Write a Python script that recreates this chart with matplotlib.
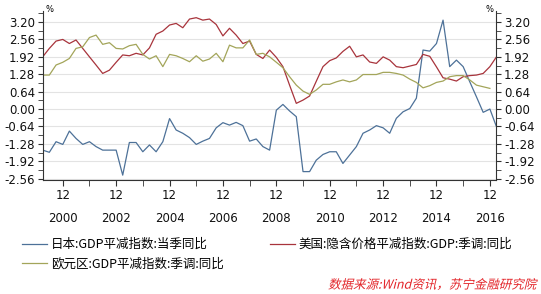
import numpy as np
import pandas as pd
import matplotlib
matplotlib.use("Agg")
import matplotlib.pyplot as plt
import matplotlib.dates as mdates
from matplotlib.ticker import MultipleLocator, FixedLocator
from matplotlib.textpath import TextPath
from matplotlib.patches import PathPatch
from matplotlib.font_manager import FontProperties
from matplotlib.transforms import Affine2D, IdentityTransform

# quarterly data, 2000Q1 .. 2017Q1
dates = pd.date_range("2000-03-31", periods=69, freq="QE")

japan = [
    -1.51, -1.59, -1.20, -1.30, -0.81, -1.08, -1.30, -1.20, -1.38, -1.51,
    -1.51, -1.51, -2.43, -1.23, -1.23, -1.57, -1.32, -1.57, -1.20, -0.35,
    -0.77, -0.89, -1.05, -1.30, -1.18, -1.08, -0.69, -0.50, -0.59, -0.49,
    -0.61, -1.18, -1.10, -1.38, -1.51, -0.04, 0.17, -0.07, -0.28, -2.30,
    -2.30, -1.88, -1.67, -1.57, -1.57, -2.00, -1.69, -1.38, -0.89, -0.77,
    -0.61, -0.69, -0.89, -0.34, -0.10, 0.02, 0.40, 2.17, 2.13, 2.41,
    3.27, 1.56, 1.80, 1.56, 1.00, 0.45, -0.12, 0.00, -0.65,
]
usa = [
    1.92, 2.23, 2.50, 2.56, 2.41, 2.54, 2.23, 1.92, 1.62, 1.31,
    1.43, 1.72, 1.99, 1.96, 2.05, 1.99, 2.25, 2.75, 2.87, 3.09,
    3.15, 2.99, 3.31, 3.36, 3.27, 3.31, 3.11, 2.69, 2.97, 2.72,
    2.41, 2.50, 2.01, 1.86, 2.17, 1.90, 1.56, 0.88, 0.21, 0.33,
    0.48, 1.02, 1.56, 1.78, 1.88, 2.12, 2.31, 1.92, 1.99, 1.73,
    1.68, 1.92, 1.80, 1.56, 1.52, 1.58, 1.64, 2.01, 1.94, 1.55,
    1.15, 1.10, 1.03, 1.19, 1.23, 1.25, 1.31, 1.56, 1.92,
]
euro = [
    1.25, 1.25, 1.62, 1.72, 1.86, 2.23, 2.29, 2.63, 2.72, 2.38,
    2.44, 2.23, 2.21, 2.33, 2.38, 2.01, 1.84, 1.96, 1.56, 2.01,
    1.96, 1.86, 1.74, 1.96, 1.76, 1.84, 2.05, 1.74, 2.35, 2.25,
    2.25, 2.54, 2.01, 2.05, 1.92, 1.72, 1.52, 1.19, 0.88, 0.66,
    0.54, 0.70, 0.91, 0.91, 1.00, 1.07, 1.00, 1.07, 1.27, 1.27,
    1.27, 1.35, 1.35, 1.31, 1.25, 1.10, 0.98, 0.78, 0.86, 0.98,
    1.03, 1.19, 1.23, 1.23, 1.07, 0.88, 0.82, 0.76,
]

labels = ["日本:GDP平减指数:当季同比", "美国:隐含价格平减指数:GDP:季调:同比", "欧元区:GDP平减指数:季调:同比"]
colors = ["#4d7198", "#a8343c", "#a3a55a"]
yticks = [-2.56, -1.92, -1.28, -0.64, 0.00, 0.64, 1.28, 1.92, 2.56, 3.20]
label_years = [2000, 2002, 2004, 2006, 2008, 2010, 2012, 2014, 2016]
all_years = list(range(2000, 2017))
source = "数据来源:Wind资讯，苏宁金融研究院"

plt.rcParams["font.family"] = ["DejaVu Sans"]
plt.rcParams["axes.unicode_minus"] = False
cjk = ["Noto Sans CJK SC", "DejaVu Sans"]

fig = plt.figure(figsize=(5.41, 2.94), dpi=100)
ax = fig.add_axes([0.0789, 0.3867, 0.8388, 0.5772])

l1, = ax.plot(dates, japan, color=colors[0], lw=0.9)
l2, = ax.plot(dates, usa, color=colors[1], lw=0.9)
l3, = ax.plot(dates[:len(euro)], euro, color=colors[2], lw=0.9)

ax.set_ylim(-2.62, 3.62)
ax.set_xlim(dates[0], dates[-1])
ax.yaxis.set_major_locator(FixedLocator(yticks))
ax.yaxis.set_minor_locator(MultipleLocator(0.32))
ax.set_yticklabels([f"{v:.2f}" for v in yticks])
ax.grid(axis="y", which="major", color="#e3e3e3", lw=0.8)
ax.set_axisbelow(True)

ax.xaxis.set_major_locator(FixedLocator([mdates.date2num(pd.Timestamp(f"{y}-12-31")) for y in label_years]))
ax.xaxis.set_minor_locator(FixedLocator([mdates.date2num(pd.Timestamp(f"{y}-12-31")) for y in all_years if y not in label_years]))
ax.set_xticklabels([f"12\n{y}" for y in label_years])
for t in ax.get_xticklabels():
    t.set_linespacing(2.0)

ax.tick_params(axis="both", which="both", direction="out", color="#333333", labelsize=8.5, labelcolor="#111111")
ax.tick_params(axis="y", which="both", right=True, labelright=True, length=3.5, pad=2)
ax.tick_params(axis="x", which="both", length=4, pad=2)

for s in ["left", "right", "bottom"]:
    ax.spines[s].set_color("#333333")
    ax.spines[s].set_linewidth(0.8)
ax.spines["top"].set_visible(False)

fig.text(45 / 541, 1 - 9 / 294, "%", fontsize=6, va="center", ha="left")
fig.text(494 / 541, 1 - 9 / 294, "%", fontsize=6, va="center", ha="right")

fig.legend([l1, l3, l2], [labels[0], labels[2], labels[1]], ncol=2,
           loc="upper left", bbox_to_anchor=(22 / 541, 1 - 238 / 294),
           frameon=False, prop={"family": cjk, "size": 9},
           handlelength=2.0, handletextpad=0.3, columnspacing=3.7,
           labelspacing=0.5, borderpad=0, borderaxespad=0)

# source note, slanted like the original (CJK font has no italic face)
tp = TextPath((0, 0), source, size=12.5, prop=FontProperties(family="Noto Sans CJK SC"))
ext = tp.get_extents()
x_right, y_mid = 537, 294 - 284
tr = Affine2D().translate(-ext.x1, -(ext.y0 + ext.y1) / 2).skew_deg(14, 0).translate(x_right, y_mid)
fig.add_artist(PathPatch(tr.transform_path(tp), transform=IdentityTransform(),
                         facecolor="#e3262b", edgecolor="none"))

fig.savefig("out.png", dpi=100)
